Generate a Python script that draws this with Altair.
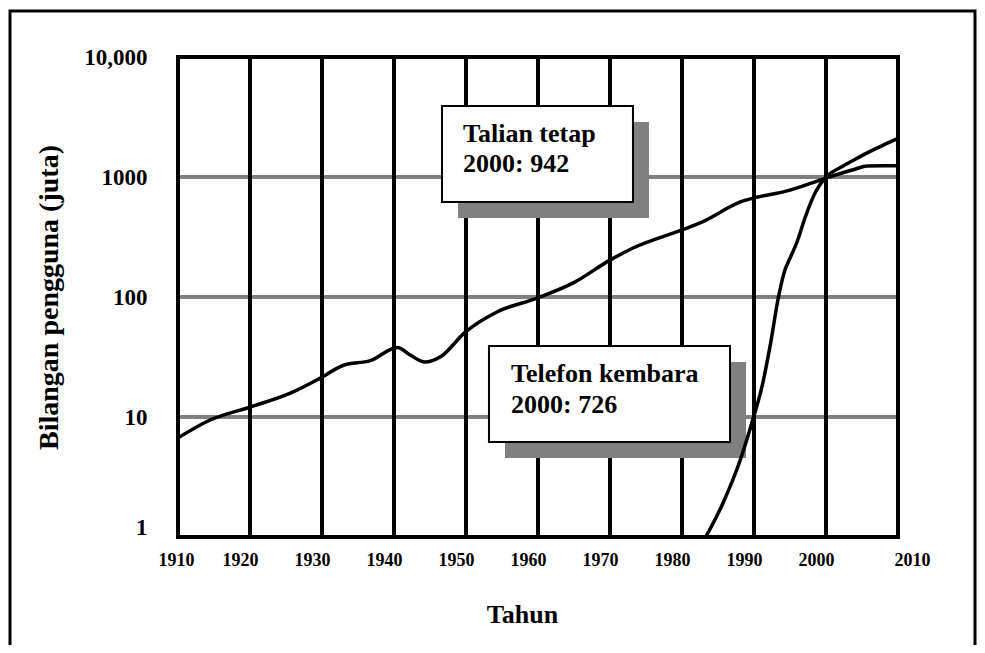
import altair as alt
import pandas as pd

# ---- data (millions of users) ----
fixed_years = [1910, 1914.4, 1920, 1925.6, 1929.7, 1933, 1936.7, 1940.5, 1942.2, 1944.3,
               1946.4, 1949.9, 1954.3, 1959.9, 1964.9, 1970, 1973.2, 1980, 1982.5, 1988.1,
               1995, 2000, 2002, 2004, 2005.7, 2008, 2010]
fixed_vals = [6.7, 9.4, 12.1, 15.8, 21, 27, 29.5, 38, 33, 28.7,
              31.6, 51, 75, 98, 131, 203, 256, 362, 414, 619,
              778, 980, 1070, 1160, 1236, 1240, 1240]

mobile_years = [1983.3, 1985.7, 1988.1, 1989.9, 1991.1, 1992.2, 1993.4, 1994.3, 1994.7,
                1996, 1997.1, 1998.6, 2000, 2002, 2004, 2006, 2008, 2010]
mobile_vals = [1, 1.92, 4.4, 9.8, 17.8, 38, 100, 168, 192,
               290, 460, 760, 1000, 1200, 1400, 1620, 1850, 2100]

x_ticks = [1910, 1920, 1930, 1940, 1950, 1960, 1970, 1980, 1990, 2000, 2010]
y_ticks = [1, 10, 100, 1000, 10000]

# annotation boxes (anchored in data units)
box_x0 = [1946.67, 1953.19]
box_x1 = [1973.19, 1986.67]
box_ytop = [3906, 39.06]
box_ybot = [619, 6.19]
note_lines = ["Talian tetap", "2000: 942", "Telefon kembara", "2000: 726"]
note_x = [1949.58, 1949.58, 1956.25, 1956.25]
note_y = [1957, 1101, 19.57, 10.8]

FONT = "Liberation Serif"

df = pd.concat([
    pd.DataFrame({"year": fixed_years, "users": fixed_vals, "series": "Talian tetap"}),
    pd.DataFrame({"year": mobile_years, "users": mobile_vals, "series": "Telefon kembara"}),
])
boxes = pd.DataFrame({"x0": box_x0, "x1": box_x1, "yt": box_ytop, "yb": box_ybot})
notes = pd.DataFrame({"t": note_lines, "x": note_x, "y": note_y})
hgrid = pd.DataFrame({"v": y_ticks[1:-1]})
vgrid = pd.DataFrame({"yr": x_ticks})

xscale = alt.Scale(domain=[1910, 2010], nice=False, zero=False)
yscale = alt.Scale(type="log", domain=[1, 10000], nice=False)

xaxis = alt.Axis(
    values=x_ticks, format="d", ticks=False, domain=False, grid=False,
    labelFont=FONT, labelFontSize=18, labelFontWeight="bold", labelColor="black",
    labelPadding=14, labelFlush=False,
    labelOffset={"condition": [{"test": "datum.value == 2010", "value": 14},
                               {"test": "datum.value == 1910", "value": -2}],
                 "value": -10},
    title="Tahun", titleFont=FONT, titleFontSize=26, titleFontWeight="bold",
    titleColor="black", titleX=344, titleY=85, titleAlign="center",
    titleBaseline="alphabetic", titleAnchor=None,
)
yaxis = alt.Axis(
    values=y_ticks, ticks=False, domain=False, grid=False,
    labelExpr="datum.value == 10000 ? '10,000' : format(datum.value, 'd')",
    labelFont=FONT, labelFontSize=23, labelFontWeight="bold", labelColor="black",
    labelPadding=31, labelBaseline="middle",
    labelOffset={"condition": {"test": "datum.value == 1", "value": -10}, "value": 0},
    title="Bilangan pengguna (juta)", titleFont=FONT, titleFontSize=28,
    titleFontWeight="bold", titleColor="black", titleAngle=270,
    titleX=-121, titleY=240, titleAlign="center", titleBaseline="alphabetic",
)

outer = alt.Chart(pd.DataFrame({"a": [0]})).mark_rect(
    filled=False, stroke="black", strokeWidth=3
).encode(x=alt.value(-168), x2=alt.value(797), y=alt.value(-46), y2=alt.value(700))

h_rules = alt.Chart(hgrid).mark_rule(color="#808080", strokeWidth=4).encode(
    y=alt.Y("v:Q", scale=yscale, axis=yaxis)
)
v_rules = alt.Chart(vgrid).mark_rule(color="black", strokeWidth=4).encode(
    x=alt.X("yr:Q", scale=xscale, axis=xaxis)
)

shadow = alt.Chart(boxes).mark_rect(
    color="#808080", xOffset=16, x2Offset=16, yOffset=16, y2Offset=16
).encode(
    x=alt.X("x0:Q", scale=xscale), x2="x1:Q",
    y=alt.Y("yt:Q", scale=yscale), y2="yb:Q",
)
box = alt.Chart(boxes).mark_rect(fill="white", stroke="black", strokeWidth=2).encode(
    x=alt.X("x0:Q", scale=xscale), x2="x1:Q",
    y=alt.Y("yt:Q", scale=yscale), y2="yb:Q",
)
text = alt.Chart(notes).mark_text(
    align="left", baseline="alphabetic", font=FONT, fontSize=26,
    fontWeight="bold", color="black"
).encode(
    x=alt.X("x:Q", scale=xscale), y=alt.Y("y:Q", scale=yscale), text="t:N"
)

lines = alt.Chart(df).mark_line(
    color="black", strokeWidth=3.5, interpolate="monotone"
).encode(
    x=alt.X("year:Q", scale=xscale),
    y=alt.Y("users:Q", scale=yscale),
    detail="series:N",
)

frame = alt.Chart(pd.DataFrame({"a": [0]})).mark_rect(
    filled=False, stroke="black", strokeWidth=4
).encode(x=alt.value(0), x2=alt.value("width"), y=alt.value(0), y2=alt.value("height"))

chart = alt.layer(outer, h_rules, v_rules, shadow, box, text, lines, frame).properties(
    width=720, height=480,
    autosize=alt.AutoSizeParams(type="none"),
    padding={"left": 170, "top": 49, "right": 79, "bottom": 108},
).configure_view(stroke=None).configure(background="white")

chart.save("out.html", embed_options={"renderer": "svg", "actions": False})
